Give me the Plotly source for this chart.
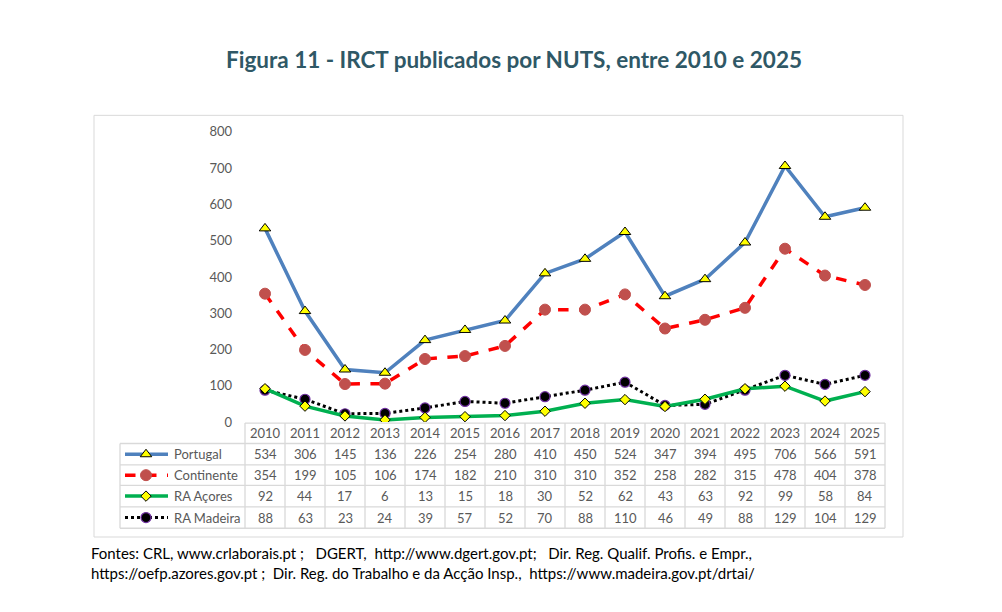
import plotly.graph_objects as go

# Data
years = [str(y) for y in range(2010, 2026)]
portugal = [534, 306, 145, 136, 226, 254, 280, 410, 450, 524, 347, 394, 495, 706, 566, 591]
continente = [354, 199, 105, 106, 174, 182, 210, 310, 310, 352, 258, 282, 315, 478, 404, 378]
acores = [92, 44, 17, 6, 13, 15, 18, 30, 52, 62, 43, 63, 92, 99, 58, 84]
madeira = [88, 63, 23, 24, 39, 57, 52, 70, 88, 110, 46, 49, 88, 129, 104, 129]
series_names = ["Portugal", "Continente", "RA Açores", "RA Madeira"]
y_ticks = [0, 100, 200, 300, 400, 500, 600, 700, 800]

W, H = 1002, 612
OFF = 8  # page offset of the plot div
grid_col = "#D9D9D9"
txt_col = "#595959"
font = "Lato"


def px(x):
    return x - OFF


def py(y):
    return y - OFF


# styles per series
styles = [
    dict(line=dict(color="#4F81BD", width=3.5),
         marker=dict(symbol="triangle-up", size=10, color="#FFFF00", line=dict(color="black", width=1))),
    dict(line=dict(color="#FF0000", width=3.5, dash="dash"),
         marker=dict(symbol="circle", size=11, color="#C0504D", line=dict(color="#C0504D", width=1))),
    dict(line=dict(color="#00B050", width=3.5),
         marker=dict(symbol="diamond", size=8, color="#FFFF00", line=dict(color="black", width=1))),
    dict(line=dict(color="black", width=3, dash="dot"),
         marker=dict(symbol="circle", size=10, color="black", line=dict(color="#7030A0", width=1.2))),
]
values = [portugal, continente, acores, madeira]

fig = go.Figure()

# table geometry (page pixels)
col_w = 40
x0_tab = 245
x_left = 120
row_tops = [426, 447, 469, 490, 512, 534]

annotations = []
for r, (name, vals, st) in enumerate(zip(series_names, values, styles)):
    yc = (row_tops[r + 1] + row_tops[r + 2]) / 2
    # legend key in the table
    fig.add_trace(go.Scatter(
        x=[px(125), px(146), px(168)], y=[py(yc)] * 3, mode="lines",
        line=st["line"], showlegend=False, hoverinfo="skip", xaxis="x2", yaxis="y2"))
    fig.add_trace(go.Scatter(
        x=[px(146)], y=[py(yc)], mode="markers",
        marker=st["marker"], showlegend=False, hoverinfo="skip", xaxis="x2", yaxis="y2"))
    annotations.append(dict(x=px(172), y=py(yc), xref="x2", yref="y2", text=name, showarrow=False,
                            xanchor="left", font=dict(family=font, size=13, color=txt_col)))
    for i, v in enumerate(vals):
        annotations.append(dict(x=i, y=py(yc), xref="x", yref="y2", text=str(v), showarrow=False,
                                font=dict(family=font, size=13, color=txt_col)))

# draw in reverse so Portugal is on top
for name, vals, st in reversed(list(zip(series_names, values, styles))):
    fig.add_trace(go.Scatter(
        x=years, y=vals, name=name, mode="lines+markers",
        line=st["line"], marker=st["marker"], showlegend=False,
        xaxis="x", yaxis="y"
    ))

shapes = []
# outer chart border
shapes.append(dict(type="rect", xref="x2", yref="y2", x0=px(94), x1=px(903), y0=py(110), y1=py(543),
                   line=dict(color=grid_col, width=1), layer="below"))
# horizontal table lines
for i, yy in enumerate(row_tops):
    xs = x0_tab if i == 0 else x_left
    shapes.append(dict(type="line", xref="x2", yref="y2", x0=px(xs), x1=px(x0_tab + col_w * len(years)),
                       y0=py(yy), y1=py(yy), line=dict(color=grid_col, width=1.3)))
# vertical table lines
for k in range(len(years) + 1):
    xx = x0_tab + col_w * k
    shapes.append(dict(type="line", xref="x2", yref="y2", x0=px(xx), x1=px(xx), y0=py(426), y1=py(534),
                       line=dict(color=grid_col, width=1.3)))
shapes.append(dict(type="line", xref="x2", yref="y2", x0=px(x_left), x1=px(x_left), y0=py(447), y1=py(534),
                   line=dict(color=grid_col, width=1.3)))

# year header row
for i, yr in enumerate(years):
    annotations.append(dict(x=i, y=py((row_tops[0] + row_tops[1]) / 2), xref="x", yref="y2",
                            text=yr, showarrow=False, font=dict(family=font, size=13, color=txt_col)))

# title
annotations.append(dict(x=px(514), y=py(53), xref="x2", yref="y2", showarrow=False,
                        text="<b>Figura 11 - IRCT publicados por NUTS, entre 2010 e 2025</b>",
                        font=dict(family=font, size=22.5, color="#2F5866")))
# sources
annotations.append(dict(x=px(89), y=py(570), xref="x2", yref="y2", showarrow=False, xanchor="left",
                        align="left",
                        text="Fontes: CRL, www.crlaborais.pt ;   DGERT,  http://www.dgert.gov.pt;   Dir. Reg. Qualif. Profis. e Empr.,"
                             "<br>https://oefp.azores.gov.pt ;  Dir. Reg. do Trabalho e da Acção Insp.,  https://www.madeira.gov.pt/drtai/",
                        font=dict(family=font, size=15, color="black")))

fig.update_layout(
    width=W, height=H,
    margin=dict(l=0, r=0, t=0, b=0),
    paper_bgcolor="white", plot_bgcolor="rgba(0,0,0,0)",
    xaxis=dict(domain=[px(x0_tab) / W, px(x0_tab + col_w * len(years)) / W], range=[-0.5, 15.5],
               type="category", showticklabels=False, showgrid=False, zeroline=False,
               showline=False, ticks="", anchor="y"),
    yaxis=dict(domain=[1 - py(425) / H, 1 - py(127) / H], range=[0, 800], tickvals=y_ticks,
               showgrid=False, zeroline=False, showline=False, anchor="x",
               tickfont=dict(family=font, size=13, color=txt_col), ticklabelstandoff=12),
    xaxis2=dict(domain=[0, 1], range=[0, W], visible=False, anchor="y2"),
    yaxis2=dict(domain=[0, 1], range=[H, 0], visible=False, anchor="x2"),
    shapes=shapes,
    annotations=annotations,
    font=dict(family=font),
)

fig.write_html("out.html")
